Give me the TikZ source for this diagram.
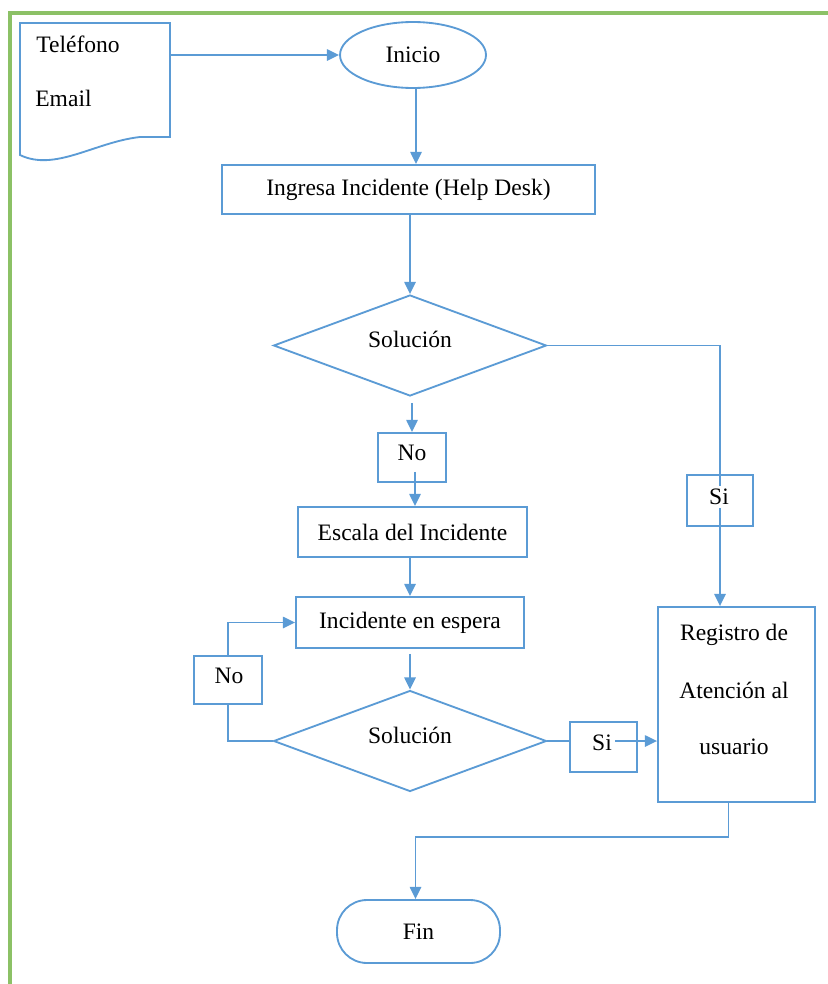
\documentclass[tikz,border=0pt]{standalone}
\usepackage{fontspec}
\setmainfont{Liberation Serif}
\usetikzlibrary{shapes.geometric,arrows.meta,calc}
\definecolor{bl}{RGB}{91,155,213}
\definecolor{gr}{RGB}{140,193,102}
\pgfdeclarelayer{bg}
\pgfsetlayers{bg,main}
\begin{document}
\begin{tikzpicture}[x=0.02cm,y=-0.02cm,
  ln/.style={draw=bl,line width=1.05pt},
  arr/.style={ln,-{Triangle[length=7pt,width=6.5pt]}},
  bx/.style={ln,rectangle,fill=white,inner sep=0pt},
  tx/.style={font=\fontsize{13.4}{16}\selectfont,inner sep=0pt,text=black},
  dia/.style={ln,diamond,fill=white,inner sep=0pt,minimum width=5.46cm,minimum height=2.02cm},
]
\useasboundingbox (0,0) rectangle (828,984);
\draw[gr,line width=1.8pt] (10,984) -- (10,13) -- (828,13);

% document shape
\draw[ln] (170,137) -- (170,23) -- (20,23) -- (20,155)
  .. controls (55,172) and (95,142) .. (140,137) -- cycle;
\node[minimum width=3cm,minimum height=2.28cm,inner sep=0pt] (doc) at (95,80) {};
\node[tx,anchor=west] (tel) at (36,44) {Teléfono};
\node[tx,anchor=west] (em) at (35,98) {Email};

% nodes
\node[ln,ellipse,fill=white,minimum width=2.92cm,minimum height=1.32cm,inner sep=0pt,tx] (ini) at (413,55) {Inicio};
\node[bx,tx,minimum width=7.46cm,minimum height=0.98cm] (ing) at (408.5,189.5) {Ingresa Incidente (Help Desk)};
\node[dia] (d1) at (410,345.5) {};
\node[tx] (d1t) at (410,339) {Solución};
\node[bx,minimum width=1.36cm,minimum height=0.98cm] (no1) at (412,457.5) {};
\node[tx] (no1t) at (412,453) {No};
\node[bx,tx,minimum width=4.58cm,minimum height=1.0cm] (esc) at (412.5,532) {Escala del Incidente};
\node[bx,tx,minimum width=4.56cm,minimum height=1.02cm] (inc) at (410,622.5) {Incidente en espera};
\node[dia] (d2) at (410,741) {};
\node[tx] (d2t) at (410,735) {Solución};
\node[bx,minimum width=1.36cm,minimum height=0.96cm] (no2) at (228,680) {};
\node[tx] (no2t) at (229,676) {No};
\node[ln,rectangle,inner sep=0pt,minimum width=1.32cm,minimum height=1.02cm] (si1) at (720,500.5) {};
\node[tx,fill=white,inner sep=2pt] (si1t) at (719,497) {Si};
\node[bx,minimum width=1.34cm,minimum height=1.0cm] (si2) at (603.5,747) {};
\node[tx] (si2t) at (602,743) {Si};
\node[bx,minimum width=3.14cm,minimum height=3.9cm] (reg) at (736.5,704.5) {};
\node[tx] (reg1) at (734,635) {Registro de};
\node[tx] (reg2) at (734,690) {Atención al};
\node[tx] (reg3) at (734,747) {usuario};
\node[ln,rectangle,rounded corners=0.6cm,fill=white,tx,minimum width=3.26cm,minimum height=1.26cm] (fin) at (418.5,931.5) {Fin};

% connectors behind
\begin{pgfonlayer}{bg}
\draw[arr] (doc.east |- ini.west) -- (ini.west);
\draw[arr] ($(ini.south)+(3,0)$) -- ($(ini.south |- ing.north)+(3,0)$);
\draw[arr] (ing.south -| d1.north) -- (d1.north);
\draw[arr] (d1.east) -| (si1.north |- reg.north);
\draw[arr] ($(no1.north |- d1.south)+(0,6)$) -- (no1.north);
\draw[arr] (esc.south -| inc.north) -- (inc.north);
\draw[arr] ($(inc.south)+(0,5)$) -- (d2.north);
\draw[arr] (d2.west) -| (no2.center) |- (inc.west);
\draw[ln] (d2.east) -- (si2.west |- d2.east);
\draw[arr] ($(reg.south)+(-8,0)$) |- ($(fin.north)+(-3,-62)$) -- ($(fin.north)+(-3,0)$);
\end{pgfonlayer}
% connectors on top
\draw[arr] ($(no1.south)+(3,-11)$) -- ($(no1.south |- esc.north)+(3,0)$);
\draw[arr] ($(si2t.east |- d2.east)+(3,0)$) -- (reg.west |- d2.east);
\end{tikzpicture}
\end{document}
